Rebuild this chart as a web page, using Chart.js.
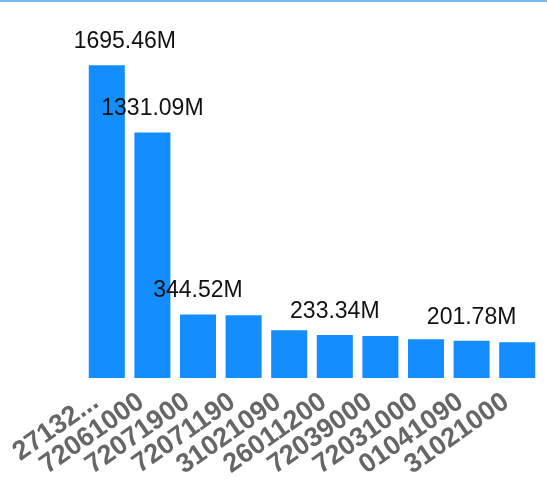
<!DOCTYPE html>
<html>
<head>
<meta charset="UTF-8">
<script src="https://cdn.jsdelivr.net/npm/chart.js"></script>
<style>
  html, body { margin: 0; padding: 0; background: #fff; }
  .caixa { width: 547px; height: 489px; border-top: 2px solid #74b9fa; }
</style>
</head>
<body>
<div class="caixa"><canvas id="grafico" width="547" height="489"></canvas></div>
<script>
// dados (milhoes)
var categorias = ['27132...', '72061000', '72071900', '72071190', '31021090',
                  '26011200', '72039000', '72031000', '01041090', '31021000'];
var valores = [1695.46, 1331.09, 344.52, 340, 259, 233.34, 228, 210, 201.78, 194];
var comRotulo = [0, 1, 2, 5, 8]; // so alguns valores aparecem em cima

// escreve o valor em cima das barras escolhidas
const rotulos = {
    id: 'rotulos',
    afterDatasetsDraw(chart) {
        const ctx = chart.ctx;
        const meta = chart.getDatasetMeta(0);
        var desvio = { 0: 18 }; // o primeiro rotulo fica meio deslocado no original
        ctx.save();
        ctx.font = '23px Arial, "Liberation Sans", sans-serif';
        ctx.fillStyle = '#111';
        ctx.textAlign = 'center';
        ctx.textBaseline = 'alphabetic';
        comRotulo.forEach(function (i) {
            var barra = meta.data[i];
            ctx.fillText(valores[i].toFixed(2) + 'M', barra.x + (desvio[i] || 0), barra.y - 17);
        });
        ctx.restore();
    }
};

new Chart(document.getElementById('grafico'), {
    type: 'bar',
    data: {
        labels: categorias,
        datasets: [{
            data: valores,
            backgroundColor: '#138dff',
            barPercentage: 0.79,
            categoryPercentage: 1
        }]
    },
    options: {
        responsive: false,
        animation: false,
        layout: { padding: { top: 44, left: 84, right: 7, bottom: 0 } },
        plugins: { legend: { display: false }, tooltip: { enabled: false } },
        scales: {
            y: { display: false, min: 0, max: 1800 },
            x: {
                grid: { display: false },
                border: { display: false },
                ticks: {
                    autoSkip: false,
                    minRotation: 35,
                    maxRotation: 35,
                    padding: 0,
                    labelOffset: -11,
                    color: '#666',
                    font: { family: 'Arial, "Liberation Sans", sans-serif', size: 27, weight: 'bold' }
                },
                afterFit: function (scale) { scale.height = 113; }
            }
        }
    },
    plugins: [rotulos]
});
</script>
</body>
</html>
